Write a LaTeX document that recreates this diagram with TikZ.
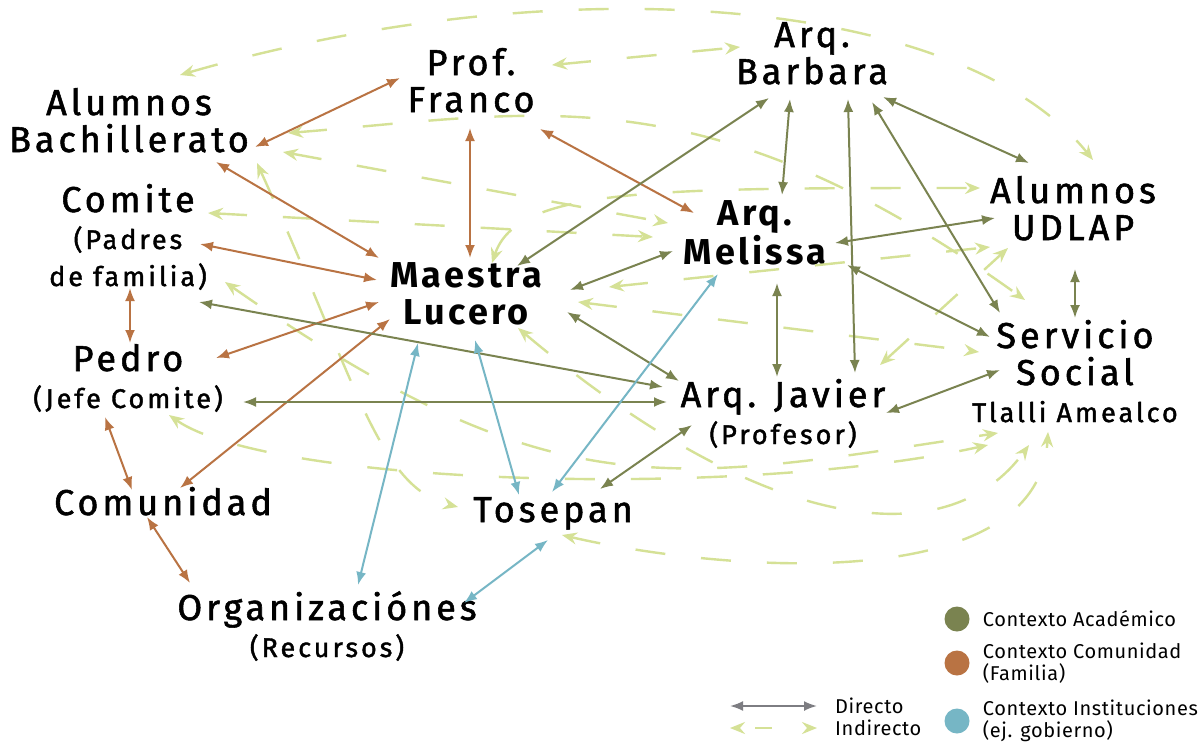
\documentclass[tikz,border=0pt]{standalone}
\usepackage{fontspec}
\setmainfont{Fira Sans}
\newfontfamily\lblfont{Fira Sans}[LetterSpace=11,FakeBold=1.5]
\newfontfamily\keyfont{Fira Sans}[LetterSpace=9]
\newfontfamily\legfont{Fira Sans}[LetterSpace=3]
\usetikzlibrary{positioning,calc,arrows.meta}
\definecolor{academic}{RGB}{122,131,80}
\definecolor{community}{RGB}{185,115,67}
\definecolor{institution}{RGB}{118,182,197}
\definecolor{indirect}{RGB}{213,225,150}
\definecolor{direct}{RGB}{125,125,130}
\newcommand{\subline}[1]{{\fontsize{27}{37}\selectfont #1}}

\begin{document}
\begin{tikzpicture}[
    x=1pt, y=-1pt,
    >={Latex[length=13pt,width=10pt]},
    actor/.style={align=center, anchor=base, inner sep=0pt, font=\lblfont\fontsize{36}{37}\selectfont},
    key/.style={actor, font=\keyfont\bfseries\fontsize{36}{37}\selectfont},
    link/.style={<->, line width=2pt},
    aca/.style={link, draw=academic},
    com/.style={link, draw=community},
    ins/.style={link, draw=institution},
    ind/.style={arrows={Stealth[length=15pt,width=12pt,inset=5pt]-Stealth[length=15pt,width=12pt,inset=5pt]},
      draw=indirect, line width=2.4pt, dash pattern=on 30pt off 36pt},
    dot/.style={circle, inner sep=0pt, minimum size=25pt},
    legtxt/.style={font=\legfont\fontsize{20}{22}\selectfont, align=left, inner sep=0pt},
  ]
  \fill[white] (0,0) rectangle (1201,745);
  \useasboundingbox (0,0) rectangle (1201,745);

  \node[actor] (bach) at (129,152) {Alumnos\\Bachillerato};
  \node[actor] (comite) at (128,286) {Comite\\\subline{(Padres}\\\subline{de familia)}};
  \node[actor] (pedro) at (128,408) {Pedro\\\subline{(Jefe Comite)}};
  \node[actor] (comun) at (163,515) {Comunidad};
  \node[actor] (orgs) at (327,657) {Organizaciónes\\\subline{(Recursos)}};
  \node[actor] (franco) at (471,112) {Prof.\\Franco};
  \node[actor] (barbara) at (812,84) {Arq.\\Barbara};
  \node[key] (lucero) at (466,324) {Maestra\\Lucero};
  \node[key] (melissa) at (755,264) {Arq.\\Melissa};
  \node[actor] (udlap) at (1073,240) {Alumnos\\UDLAP};
  \node[actor] (servicio) at (1075,422) {Servicio\\Social\\\subline{Tlalli Amealco}};
  \node[actor] (javier) at (783,444) {Arq. Javier\\\subline{(Profesor)}};
  \node[actor] (tosepan) at (553,522) {Tosepan};

  % indirectos
  \draw[ind] ($(bach.base)+(51,-77)$) .. controls +(380,-110) and +(-133,-165) .. ($(udlap.base)+(20,-80)$);
  \draw[ind] ($(franco.base)+(81,-47)$) -- ($(barbara.base)+(-72,-37)$);
  \draw[ind] ($(bach.base)+(159,-19)$) .. controls +(250,-20) and +(-320,-230) .. ($(servicio.base)+(-50,-122)$);
  \draw[ind] ($(bach.base)+(154,0)$) -- ($(melissa.base)+(-87,-41)$);
  \draw[ind] ($(comite.base)+(80,-73)$) -- ($(melissa.base)+(-102,-27)$);
  \draw[ind] ($(lucero.base)+(26,-61)$) .. controls +(25,-75) and +(-330,0) .. ($(udlap.base)+(-93,-52)$);
  \draw[ind] ($(comite.base)+(97,-4)$) .. controls +(330,230) and +(-330,50) .. ($(servicio.base)+(-77,11)$);
  \draw[ind] ($(pedro.base)+(41,7)$) .. controls +(100,70) and +(-250,55) .. ($(servicio.base)+(-87,23)$);
  \draw[ind] ($(lucero.base)+(52,4)$) .. controls +(250,210) and +(-80,110) .. ($(servicio.base)+(-46,23)$);
  \draw[ind] ($(tosepan.base)+(9,13)$) .. controls +(150,35) and +(-10,168) .. ($(servicio.base)+(-27,10)$);
  \draw[ind] ($(bach.base)+(128,11)$) .. controls +(100,220) and +(-80,-20) .. ($(tosepan.base)+(-95,-15)$);
  \draw[ind] ($(lucero.base)+(143,-37)$) -- ($(udlap.base)+(-83,7)$);
  \draw[ind] ($(lucero.base)+(112,-22)$) -- ($(servicio.base)+(-96,-70)$);
  \draw[ind] ($(javier.base)+(97,-79)$) -- ($(udlap.base)+(-65,8)$);

  % comunidad
  \draw[com] ($(bach.base)+(126,-5)$) -- ($(franco.base)+(-71,-34)$);
  \draw[com] ($(franco.base)+(-1,16)$) -- ($(lucero.base)+(4,-66)$);
  \draw[com] ($(franco.base)+(69,17)$) -- ($(melissa.base)+(-61,-51)$);
  \draw[com] ($(bach.base)+(87,10)$) -- ($(lucero.base)+(-87,-66)$);
  \draw[com] ($(comite.base)+(72,-42)$) -- ($(lucero.base)+(-89,-44)$);
  \draw[com] ($(pedro.base)+(88,-50)$) -- ($(lucero.base)+(-87,-22)$);
  \draw[com] ($(comun.base)+(17,-27)$) -- ($(lucero.base)+(-76,-5)$);
  \draw[com] ($(comite.base)+(2,2)$) -- ($(pedro.base)+(2,-65)$);
  \draw[com] ($(pedro.base)+(-23,9)$) -- ($(comun.base)+(-31,-25)$);
  \draw[com] ($(comun.base)+(-16,2)$) -- ($(orgs.base)+(-137,-74)$);

  % academico
  \draw[aca] ($(lucero.base)+(51,-58)$) -- ($(barbara.base)+(-43,14)$);
  \draw[aca] ($(lucero.base)+(104,-34)$) -- ($(melissa.base)+(-82,-13)$);
  \draw[aca] ($(lucero.base)+(101,-12)$) -- ($(javier.base)+(-104,-63)$);
  \draw[aca] ($(comite.base)+(71,16)$) -- ($(javier.base)+(-120,-57)$);
  \draw[aca] ($(pedro.base)+(115,-6)$) -- ($(javier.base)+(-116,-42)$);
  \draw[aca] ($(tosepan.base)+(47,-33)$) -- ($(javier.base)+(-91,-19)$);
  \draw[aca] ($(melissa.base)+(80,-21)$) -- ($(udlap.base)+(-78,-22)$);
  \draw[aca] ($(melissa.base)+(92,1)$) -- ($(servicio.base)+(-85,-85)$);
  \draw[aca] ($(barbara.base)+(-22,15)$) -- ($(melissa.base)+(27,-69)$);
  \draw[aca] ($(barbara.base)+(36,15)$) -- ($(javier.base)+(72,-71)$);
  \draw[aca] ($(barbara.base)+(60,18)$) -- ($(servicio.base)+(-75,-109)$);
  \draw[aca] ($(barbara.base)+(71,13)$) -- ($(udlap.base)+(-44,-77)$);
  \draw[aca] ($(melissa.base)+(22,19)$) -- ($(javier.base)+(-6,-67)$);
  \draw[aca] ($(udlap.base)+(2,29)$) -- ($(servicio.base)+(0,-104)$);
  \draw[aca] ($(javier.base)+(103,-31)$) -- ($(servicio.base)+(-75,-52)$);

  % instituciones
  \draw[ins] ($(lucero.base)+(-48,19)$) -- ($(orgs.base)+(31,-72)$);
  \draw[ins] ($(lucero.base)+(9,16)$) -- ($(tosepan.base)+(-34,-27)$);
  \draw[ins] ($(melissa.base)+(-37,10)$) -- ($(tosepan.base)+(-1,-30)$);
  \draw[ins] ($(tosepan.base)+(-5,18)$) -- ($(orgs.base)+(137,-54)$);

  % leyenda
  \coordinate (dirL) at (730,706);
  \coordinate (dirR) at (817,706);
  \draw[link, draw=direct] (dirL) -- (dirR);
  \node[legtxt, right=18pt of dirR] (legdir) {Directo};
  \coordinate (indL) at (730,728);
  \coordinate (indR) at (817,728);
  \draw[ind, dash pattern=on 0pt off 16pt on 17pt off 100pt] (indL) -- (indR);
  \node[legtxt, right=18pt of indR] (legind) {Indirecto};

  \node[dot, fill=academic] (dotaca) at (957,619) {};
  \node[legtxt, right=13pt of dotaca] (legaca) {Contexto Académico};
  \node[dot, fill=community] (dotcom) at (957,663) {};
  \node[legtxt, right=13pt of dotcom] (legcom) {Contexto Comunidad\\(Familia)};
  \node[dot, fill=institution] (dotins) at (957,721) {};
  \node[legtxt, right=13pt of dotins] (legins) {Contexto Instituciones\\(ej. gobierno)};
\end{tikzpicture}
\end{document}
